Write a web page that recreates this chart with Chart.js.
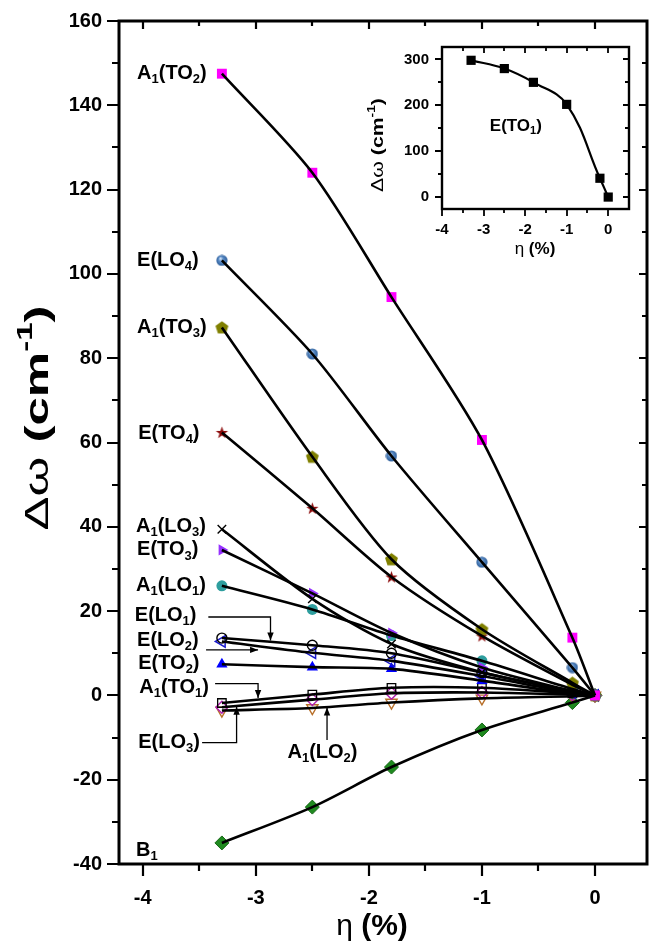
<!DOCTYPE html>
<html>
<head>
<meta charset="utf-8">
<script src="https://cdn.jsdelivr.net/npm/chart.js@4.4.0/dist/chart.umd.min.js"></script>
<style>
    body { margin: 0; background: #fff; }
    #wrap { position: relative; width: 655px; height: 945px; }
    #main { position: absolute; left: 0; top: 0; }
    #inset { position: absolute; left: 360px; top: 30px; }
</style>
</head>
<body>
<div id="wrap">
    <canvas id="main" width="655" height="945"></canvas>
    <canvas id="inset" width="290" height="240"></canvas>
</div>
<script>
// Strain values (x axis, %)
const strain = [-3.3, -2.5, -1.8, -1.0, -0.2, 0];

// Raman shifts per mode (cm-1)
const a1TO2 = [147.5, 124.0, 94.5, 60.6, 13.7, 0];
const eLO4 = [103.2, 81.0, 56.8, 31.6, 6.6, 0];
const a1TO3 = [87.3, 56.6, 32.3, 15.7, 3.0, 0];
const eTO4 = [62.4, 44.4, 28.1, 14.1, 2.5, 0];
const a1LO3 = [39.4, 22.9, 12.2, 5.5, 1.0, 0];
const eTO3 = [34.5, 24.2, 14.8, 6.6, 1.0, 0];
const a1LO1 = [26.0, 20.4, 14.2, 8.2, 1.5, 0];
const eLO1 = [13.6, 11.9, 10.0, 5.4, 0.8, 0];
const eLO2 = [12.8, 10.1, 8.2, 4.6, 0.6, 0];
const eTO2 = [7.4, 6.7, 6.3, 3.5, 0.4, 0];
const a1TO1 = [-1.8, 0.2, 1.8, 1.8, 0.5, 0];
const eLO3 = [-2.8, -1.0, 0.5, 0.7, 0.2, 0];
const a1LO2 = [-3.6, -3.0, -1.7, -0.7, -0.2, 0];
const b1 = [-35.0, -26.5, -17.0, -8.2, -1.7, 0];

// Inset: E(TO1)
const eTO1 = [298, 280, 250, 202, 41, 0];

// Tick values
const xMajor = [-4, -3, -2, -1, 0];
const xMinor = [-3.5, -2.5, -1.5, -0.5];
const yMajor = [-40, -20, 0, 20, 40, 60, 80, 100, 120, 140, 160];
const yMinor = [-30, -10, 10, 30, 50, 70, 90, 110, 130, 150];
const insetYMajor = [0, 100, 200, 300];
const insetYMinor = [50, 150, 250];

const FONT = '"Liberation Sans", Arial, sans-serif';

// --- custom marker images ---
function makeCanvas(w, h, fn) {
    const c = document.createElement('canvas');
    c.width = w; c.height = h;
    fn(c.getContext('2d'));
    return c;
}
const pentagon = makeCanvas(15, 15, (g) => {
    g.beginPath();
    for (let i = 0; i < 5; i++) {
        const a = -Math.PI / 2 + i * 2 * Math.PI / 5;
        g.lineTo(7.5 + 6.8 * Math.cos(a), 8 + 6.8 * Math.sin(a));
    }
    g.closePath();
    g.fillStyle = '#808000';
    g.fill();
});
const star = makeCanvas(15, 15, (g) => {
    g.beginPath();
    for (let i = 0; i < 10; i++) {
        const a = -Math.PI / 2 + i * Math.PI / 5;
        const r = i % 2 ? 2.6 : 6.5;
        g.lineTo(7.5 + r * Math.cos(a), 8 + r * Math.sin(a));
    }
    g.closePath();
    g.fillStyle = '#8b0a0a';
    g.fill();
});
const sphere = makeCanvas(12, 12, (g) => {
    const grad = g.createRadialGradient(4.5, 4, 0.5, 6, 6, 6);
    grad.addColorStop(0, '#cfe0f5');
    grad.addColorStop(0.35, '#5a8cc6');
    grad.addColorStop(1, '#2a5a96');
    g.beginPath();
    g.arc(6, 6, 5.6, 0, Math.PI * 2);
    g.fillStyle = grad;
    g.fill();
});

const series = [
    { values: a1TO2, style: 'rect', r: 7, bg: '#ff00ff', bd: '#ff00ff' },
    { values: eLO4, style: sphere },
    { values: a1TO3, style: pentagon },
    { values: eTO4, style: star },
    { values: a1LO3, style: 'crossRot', r: 6, bg: '#000', bd: '#000', bw: 1.4 },
    { values: eTO3, style: 'triangle', rot: 90, r: 6.5, bg: '#9630ff', bd: '#9630ff' },
    { values: a1LO1, style: 'circle', r: 5.5, bg: '#2e9e9e', bd: '#2e9e9e' },
    { values: eLO1, style: 'circle', r: 5, bg: 'rgba(0,0,0,0)', bd: '#000', bw: 1.4 },
    { values: eLO2, style: 'triangle', rot: 270, r: 6.5, bg: 'rgba(0,0,0,0)', bd: '#1a1acc', bw: 1.5 },
    { values: eTO2, style: 'triangle', r: 6.5, bg: '#0000ff', bd: '#0000ff' },
    { values: a1TO1, style: 'rect', r: 6, bg: 'rgba(0,0,0,0)', bd: '#000', bw: 1.3 },
    { values: eLO3, style: 'rectRot', r: 6, bg: 'rgba(0,0,0,0)', bd: '#b020b0', bw: 1.4 },
    { values: a1LO2, style: 'triangle', rot: 180, r: 6.5, bg: 'rgba(0,0,0,0)', bd: '#b8702a', bw: 1.4 },
    { values: b1, style: 'rectRot', r: 7, bg: '#1f8a1f', bd: '#166616', bw: 1 }
];

const datasets = [];
series.forEach((s) => {
    const pts = strain.map((x, i) => ({ x: x, y: s.values[i] }));
    datasets.push({
        data: pts, showLine: true, borderColor: '#000', borderWidth: 2.6,
        pointRadius: 0, tension: 0.28, order: 0
    });
    datasets.push({
        data: pts, showLine: false, pointStyle: s.style, pointRadius: s.r || 6,
        pointRotation: s.rot || 0, backgroundColor: s.bg || '#000',
        borderColor: s.bd || '#000', borderWidth: s.bw || 0, order: 1
    });
});

// Mode labels, in data coordinates (left edge, vertical centre). {n} = subscript
const modeLabels = [
    { t: 'A{1}(TO{2})', x: -4.05, y: 147.5 },
    { t: 'E(LO{4})', x: -4.05, y: 103.3 },
    { t: 'A{1}(TO{3})', x: -4.05, y: 87.3 },
    { t: 'E(TO{4})', x: -4.04, y: 62.1 },
    { t: 'A{1}(LO{3})', x: -4.06, y: 40.1 },
    { t: 'E(TO{3})', x: -4.05, y: 34.5 },
    { t: 'A{1}(LO{1})', x: -4.06, y: 26.0 },
    { t: 'E(LO{1})', x: -4.07, y: 18.9 },
    { t: 'E(LO{2})', x: -4.05, y: 13.0 },
    { t: 'E(TO{2})', x: -4.04, y: 7.5 },
    { t: 'A{1}(TO{1})', x: -4.03, y: 1.8 },
    { t: 'E(LO{3})', x: -4.04, y: -11.2 },
    { t: 'A{1}(LO{2})', x: -2.72, y: -13.5 },
    { t: 'B{1}', x: -4.06, y: -36.7 }
];

// Leader arrows, in data coordinates (last point gets the head)
const arrows = [
    [[-3.42, 18.6], [-2.87, 18.6], [-2.87, 13.0]],
    [[-3.44, 10.8], [-2.98, 10.8]],
    [[-3.36, 2.8], [-2.98, 2.8], [-2.98, -0.6]],
    [[-3.475, -11.2], [-3.17, -11.2], [-3.17, -2.7]],
    [[-2.37, -10.6], [-2.37, -2.9]]
];

function parseRich(t) {
    const parts = [];
    t.split(/(\{[^}]*\})/).forEach((p) => {
        if (!p) return;
        if (p[0] === '{') parts.push([p.slice(1, -1), 'sub']);
        else parts.push([p, null]);
    });
    return parts;
}

function richWidth(ctx, parts, size) {
    let w = 0;
    parts.forEach(([t, kind, normal]) => {
        const fs = kind ? Math.round(size * 0.66) : size;
        ctx.font = `${normal ? '' : 'bold '}${fs}px ${FONT}`;
        w += ctx.measureText(t).width;
    });
    return w;
}

function drawRich(ctx, parts, x, y, size) {
    let cx = x;
    ctx.textBaseline = 'middle';
    ctx.textAlign = 'left';
    parts.forEach(([t, kind, normal]) => {
        const fs = kind ? Math.round(size * 0.66) : size;
        ctx.font = `${normal ? '' : 'bold '}${fs}px ${FONT}`;
        const dy = kind === 'sub' ? size * 0.3 : kind === 'sup' ? -size * 0.38 : 0;
        ctx.fillText(t, cx, y + dy);
        cx += ctx.measureText(t).width;
    });
}

// rotated title, stretched along its reading direction like the original
function drawTitleRotated(ctx, parts, cx, cy, size, stretch) {
    ctx.save();
    ctx.translate(cx, cy);
    ctx.rotate(-Math.PI / 2);
    ctx.scale(stretch, 1);
    const w = richWidth(ctx, parts, size);
    drawRich(ctx, parts, -w / 2, 0, size);
    ctx.restore();
}

function drawTitle(ctx, parts, cx, cy, size) {
    const w = richWidth(ctx, parts, size);
    drawRich(ctx, parts, cx - w / 2, cy, size);
}

function drawFrame(chart, o) {
    const { ctx, chartArea: a, scales } = chart;
    ctx.save();
    ctx.strokeStyle = '#000';
    ctx.lineWidth = o.tickWidth;
    ctx.beginPath();
    o.xMajor.concat(o.xMinor).forEach((v) => {
        const big = o.xMajor.includes(v);
        const px = Math.round(scales.x.getPixelForValue(v));
        ctx.moveTo(px, a.bottom); ctx.lineTo(px, a.bottom + (big ? o.outMaj : o.outMin));
        ctx.moveTo(px, a.top); ctx.lineTo(px, a.top + (big ? o.inMaj : o.inMin));
    });
    o.yMajor.concat(o.yMinor).forEach((v) => {
        const big = o.yMajor.includes(v);
        const py = Math.round(scales.y.getPixelForValue(v));
        ctx.moveTo(a.left, py); ctx.lineTo(a.left - (big ? o.outMaj : o.outMin), py);
        ctx.moveTo(a.right, py); ctx.lineTo(a.right - (big ? o.inMaj : o.inMin), py);
    });
    ctx.stroke();
    ctx.lineWidth = o.frameWidth;
    ctx.strokeRect(a.left, a.top, a.right - a.left, a.bottom - a.top);
    ctx.restore();
}

const mainDecor = {
    id: 'mainDecor',
    afterDraw(chart) {
        const { ctx, scales } = chart;
        drawFrame(chart, {
            xMajor, xMinor, yMajor, yMinor, tickWidth: 2.2, frameWidth: 3,
            outMaj: 12, outMin: 7, inMaj: 8, inMin: 5
        });
        ctx.save();
        ctx.fillStyle = '#000';
        modeLabels.forEach((l) => {
            drawRich(ctx, parseRich(l.t), scales.x.getPixelForValue(l.x), scales.y.getPixelForValue(l.y), 20);
        });
        // leader arrows
        ctx.strokeStyle = '#000';
        ctx.lineWidth = 1.3;
        arrows.forEach((pts) => {
            const p = pts.map(([x, y]) => [scales.x.getPixelForValue(x), scales.y.getPixelForValue(y)]);
            ctx.beginPath();
            p.forEach(([x, y], i) => (i ? ctx.lineTo(x, y) : ctx.moveTo(x, y)));
            ctx.stroke();
            const [x1, y1] = p[p.length - 2];
            const [x2, y2] = p[p.length - 1];
            const ang = Math.atan2(y2 - y1, x2 - x1);
            ctx.beginPath();
            ctx.moveTo(x2, y2);
            ctx.lineTo(x2 - 8 * Math.cos(ang) + 3.2 * Math.sin(ang), y2 - 8 * Math.sin(ang) - 3.2 * Math.cos(ang));
            ctx.lineTo(x2 - 8 * Math.cos(ang) - 3.2 * Math.sin(ang), y2 - 8 * Math.sin(ang) + 3.2 * Math.cos(ang));
            ctx.closePath();
            ctx.fill();
        });
        // axis titles
        drawTitleRotated(ctx, [['\u0394\u03c9 ', null, true], ['(cm', null], ['-1', 'sup'], [')', null]], 39, 418, 34, 1.5);
        drawTitle(ctx, [['\u03b7 ', null, true], ['(%)', null]], 372, 927, 30);
        ctx.restore();
    }
};

function tickSetter(vals) {
    return (scale) => { scale.ticks = vals.map((v) => ({ value: v })); };
}

new Chart(document.getElementById('main').getContext('2d'), {
    type: 'scatter',
    data: { datasets },
    options: {
        responsive: false,
        animation: false,
        events: [],
        layout: { padding: { top: 18, right: 2, left: 0, bottom: 0 } },
        plugins: { legend: { display: false }, tooltip: { enabled: false } },
        scales: {
            x: {
                type: 'linear', min: -4.21, max: 0.46,
                grid: { display: false }, border: { display: false },
                afterBuildTicks: tickSetter(xMajor.concat(xMinor).sort((a, b) => a - b)),
                afterFit: (s) => { s.height = 81; },
                ticks: {
                    autoSkip: false, maxRotation: 0, padding: 14, color: '#000',
                    font: { size: 20, weight: 'bold', family: FONT },
                    callback: (v) => (Number.isInteger(v) ? v : '')
                }
            },
            y: {
                type: 'linear', min: -40, max: 160,
                grid: { display: false }, border: { display: false },
                afterBuildTicks: tickSetter(yMajor.concat(yMinor).sort((a, b) => a - b)),
                afterFit: (s) => { s.width = 119; },
                ticks: {
                    autoSkip: false, padding: 9, color: '#000',
                    font: { size: 20, weight: 'bold', family: FONT },
                    callback: (v) => (v % 20 === 0 ? v : '')
                }
            }
        }
    },
    plugins: [mainDecor]
});

// --- inset ---
const insetPts = strain.map((x, i) => ({ x: x, y: eTO1[i] }));
const insetDecor = {
    id: 'insetDecor',
    afterDraw(chart) {
        const { ctx, scales } = chart;
        drawFrame(chart, {
            xMajor, xMinor: xMinor.concat([-0.5]), yMajor: insetYMajor, yMinor: insetYMinor,
            tickWidth: 1.8, frameWidth: 2.4, outMaj: 7, outMin: 4, inMaj: 6, inMin: 4
        });
        ctx.save();
        ctx.fillStyle = '#000';
        drawRich(ctx, parseRich('E(TO{1})'), scales.x.getPixelForValue(-2.85), scales.y.getPixelForValue(155), 17);
        drawTitleRotated(ctx, [['\u0394\u03c9 ', null, true], ['(cm', null], ['-1', 'sup'], [')', null]], 18, 115, 17, 1.25);
        drawTitle(ctx, [['\u03b7 ', null, true], ['(%)', null]], 175, 219, 17);
        ctx.restore();
    }
};

new Chart(document.getElementById('inset').getContext('2d'), {
    type: 'scatter',
    data: {
        datasets: [
            { data: insetPts, showLine: true, borderColor: '#000', borderWidth: 2.2, pointRadius: 0, tension: 0.4, order: 0 },
            { data: insetPts, showLine: false, pointStyle: 'rect', pointRadius: 6.5, backgroundColor: '#000', borderColor: '#000', borderWidth: 0, order: 1 }
        ]
    },
    options: {
        responsive: false,
        animation: false,
        events: [],
        layout: { padding: { top: 17, right: 21, left: 0, bottom: 0 } },
        plugins: { legend: { display: false }, tooltip: { enabled: false } },
        scales: {
            x: {
                type: 'linear', min: -4, max: 0.5,
                grid: { display: false }, border: { display: false },
                afterBuildTicks: tickSetter(xMajor),
                afterFit: (s) => { s.height = 61; },
                ticks: {
                    autoSkip: false, maxRotation: 0, padding: 4, color: '#000',
                    font: { size: 15, weight: 'bold', family: FONT }
                }
            },
            y: {
                type: 'linear', min: -26, max: 327,
                grid: { display: false }, border: { display: false },
                afterBuildTicks: tickSetter(insetYMajor),
                afterFit: (s) => { s.width = 82; },
                ticks: {
                    autoSkip: false, padding: 5, color: '#000',
                    font: { size: 15, weight: 'bold', family: FONT }
                }
            }
        }
    },
    plugins: [insetDecor]
});
</script>
</body>
</html>
